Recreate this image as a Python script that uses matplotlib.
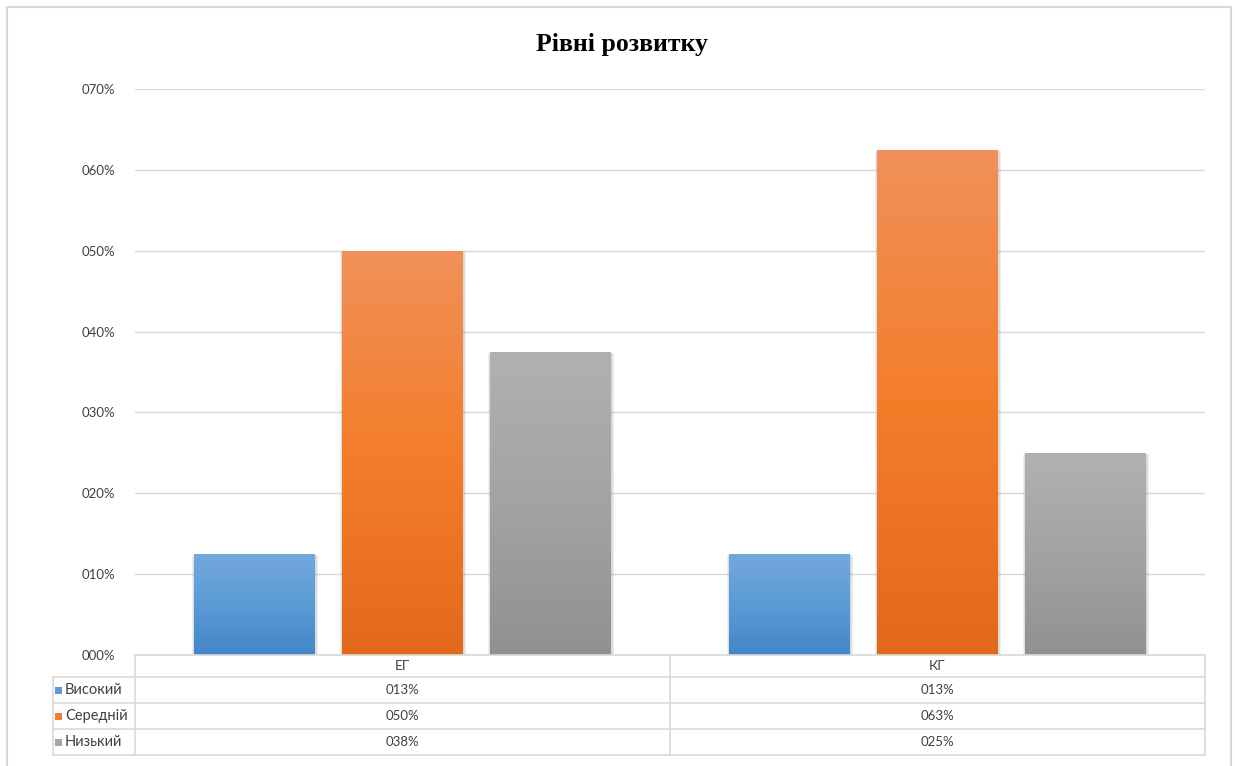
import numpy as np
import matplotlib
matplotlib.use('Agg')
import matplotlib.pyplot as plt
from matplotlib.patches import Rectangle
from matplotlib.colors import LinearSegmentedColormap
from matplotlib.ticker import FuncFormatter

# data
groups = ['ЕГ', 'КГ']
levels = ['Високий', 'Середній', 'Низький']
values = {
    'Високий': [0.125, 0.125],
    'Середній': [0.50, 0.625],
    'Низький': [0.375, 0.25],
}
title = 'Рівні розвитку'

# gradient stops top -> middle -> bottom, last one is the legend key colour
shades = {
    'Високий': ['#73a9dd', '#5b9bd5', '#4486c8', '#5b9bd5'],
    'Середній': ['#f0915a', '#f47d2a', '#e3691a', '#ed7d31'],
    'Низький': ['#b1b1b1', '#a3a3a3', '#919191', '#a5a5a5'],
}

plt.rcParams['font.family'] = ['Lato', 'DejaVu Sans']

W, H = 1235, 766
fig = plt.figure(figsize=(W / 100, H / 100), dpi=100)
fig.patch.set_facecolor('white')

def px(x, y):
    # pixel position (from top-left) -> figure fraction
    return x / W, 1 - y / H

left, top = px(135, 89)
right, bottom = px(1205, 655)
ax = fig.add_axes([left, bottom, right - left, top - bottom])

for s in ax.spines.values():
    s.set_visible(False)
ax.set_yticks(np.arange(0, 0.71, 0.1))
ax.yaxis.set_major_formatter(FuncFormatter(lambda v, p: '{:03d}%'.format(int(round(v * 100)))))
ax.tick_params(axis='y', length=0, pad=14, labelsize=9.5, labelcolor='#404040')
ax.set_xticks([])
ax.grid(axis='y', color='#d9d9d9', linewidth=1)
ax.set_axisbelow(True)

# bars
bw = 0.226
step = 0.2766
for i, lev in enumerate(levels):
    off = (i - 1) * step
    cmap = LinearSegmentedColormap.from_list(lev, shades[lev][:3][::-1])
    grad = np.linspace(0, 1, 256).reshape(-1, 1)
    for j, v in enumerate(values[lev]):
        x0 = j + off - bw / 2
        # soft shadow on the sides
        for k in range(1, 6):
            dx = 0.0011 * k
            ax.add_patch(Rectangle((x0 - dx + 0.001, 0), bw + 2 * dx, v - 0.003 + 0.0004 * k,
                                   facecolor='black', edgecolor='none', alpha=0.03, zorder=2))
        bar = ax.bar(j + off, v, width=bw, color=shades[lev][1], linewidth=0, zorder=3)[0]
        im = ax.imshow(grad, cmap=cmap, aspect='auto', origin='lower',
                       extent=(x0, x0 + bw, 0, v), zorder=4)
        im.set_clip_path(bar)

ax.set_xlim(-0.5, len(groups) - 0.5)
ax.set_ylim(0, 0.7)

# data table under the plot
line_kw = dict(color='#d9d9d9', linewidth=1.2)
rows_y = [655, 677, 703, 729, 755]
tab_left = 53
col_x = [135, 670, 1205]

def hline(y, x0, x1):
    a, b = px(x0, y)
    c, _ = px(x1, y)
    fig.add_artist(plt.Line2D([a, c], [b, b], transform=fig.transFigure, **line_kw))

def vline(x, y0, y1):
    a, b = px(x, y0)
    _, d = px(x, y1)
    fig.add_artist(plt.Line2D([a, a], [b, d], transform=fig.transFigure, **line_kw))

hline(rows_y[0], col_x[0], col_x[-1])
for y in rows_y[1:]:
    hline(y, tab_left, col_x[-1])
vline(tab_left, rows_y[1], rows_y[-1])
for x in col_x:
    vline(x, rows_y[0], rows_y[-1])

for j, g in enumerate(groups):
    cx = (col_x[j] + col_x[j + 1]) / 2
    fx, fy = px(cx, (rows_y[0] + rows_y[1]) / 2)
    fig.text(fx, fy, g, ha='center', va='center', fontsize=10, color='#404040')

for i, lev in enumerate(levels):
    ymid = (rows_y[i + 1] + rows_y[i + 2]) / 2
    kx, ky = px(55, ymid + 3.5)
    fig.add_artist(Rectangle((kx, ky), 7 / W, 7 / H, transform=fig.transFigure,
                             facecolor=shades[lev][3], edgecolor='none'))
    tx, ty = px(65, ymid)
    fig.text(tx, ty, lev, ha='left', va='center', fontsize=10.5, color='#404040')
    for j, v in enumerate(values[lev]):
        cx = (col_x[j] + col_x[j + 1]) / 2
        fx, fy = px(cx, ymid)
        fig.text(fx, fy, '{:03d}%'.format(int(v * 100 + 0.5)), ha='center', va='center',
                 fontsize=9.5, color='#404040')

# title
tx, ty = px(622, 44)
fig.text(tx, ty, title, ha='center', va='center', fontsize=18.5, fontweight='bold',
         family=['Liberation Serif', 'DejaVu Serif'], color='black')

# outer chart frame
x0, y0 = px(7, 7)
x1, _ = px(1231, 7)
fig.add_artist(plt.Line2D([x0, x0, x1, x1], [0, y0, y0, 0], transform=fig.transFigure,
                          color='#d9d9d9', linewidth=1.5))

fig.savefig('out.png', dpi=100)
